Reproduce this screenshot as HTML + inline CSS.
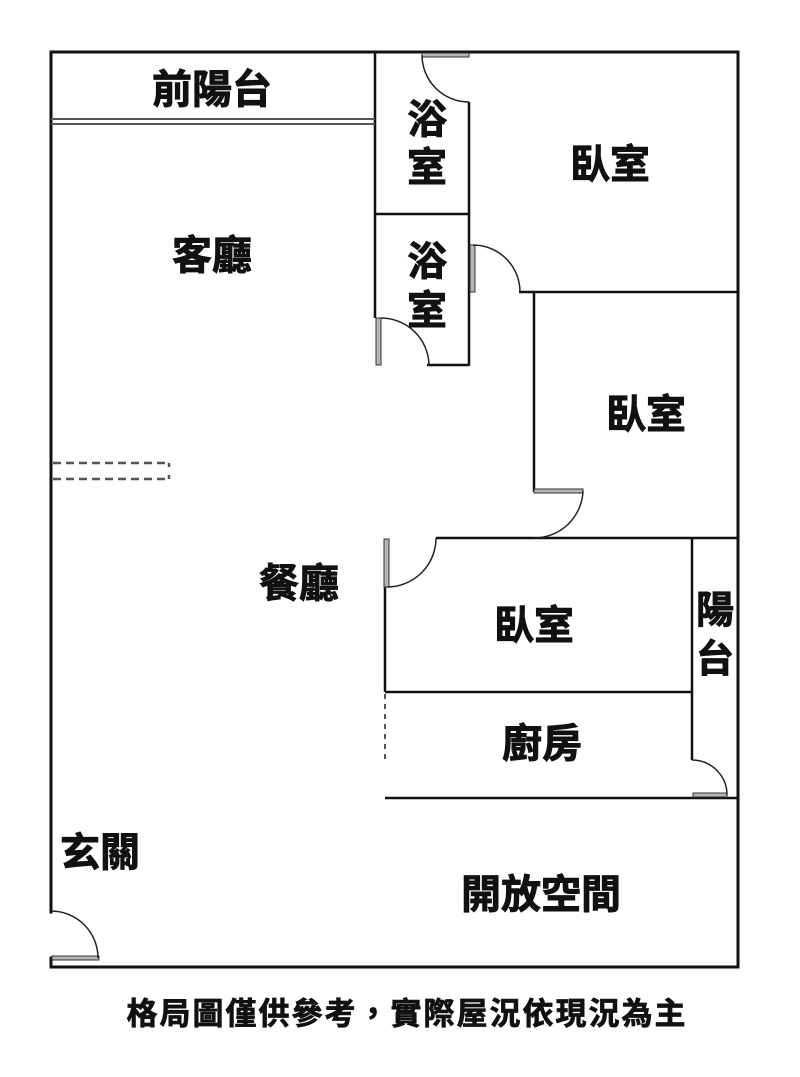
<!DOCTYPE html>
<html><head><meta charset="utf-8"><style>
html,body{margin:0;padding:0;background:#fff;}
svg{display:block;}
text{font-family:"Liberation Sans","Noto Sans CJK TC","Noto Sans CJK SC",sans-serif;font-weight:bold;fill:#111;stroke:#111;stroke-width:0.9;}
</style></head><body>
<svg width="800" height="1077" viewBox="0 0 800 1077" xmlns="http://www.w3.org/2000/svg">
<rect x="0" y="0" width="800" height="1077" fill="#fff"/>
<g stroke="#111" stroke-width="3" fill="none" stroke-linecap="square">
  <line x1="51" y1="52" x2="738" y2="52"/>
  <line x1="738" y1="52" x2="738" y2="967"/>
  <line x1="51" y1="967" x2="738" y2="967"/>
  <line x1="51" y1="52" x2="51" y2="912"/>
  <line x1="51" y1="958" x2="51" y2="967"/>
</g>
<g stroke="#111" stroke-width="2.5" fill="none">
  <line x1="375" y1="52" x2="375" y2="318"/>
  <line x1="375" y1="214" x2="469" y2="214"/>
  <line x1="469" y1="102" x2="469" y2="366"/>
  <line x1="427" y1="365" x2="469" y2="365"/>
  <line x1="519" y1="292" x2="738" y2="292"/>
  <line x1="534" y1="292" x2="534" y2="492"/>
  <line x1="436" y1="538" x2="738" y2="538"/>
  <line x1="385" y1="587" x2="385" y2="692"/>
  <line x1="385" y1="692" x2="692" y2="692"/>
  <line x1="692" y1="538" x2="692" y2="760"/>
  <line x1="385" y1="798" x2="738" y2="798"/>
</g>
<g stroke="#555" stroke-width="2" fill="none">
  <line x1="51" y1="119" x2="375" y2="119"/>
  <line x1="51" y1="124" x2="375" y2="124"/>
</g>
<g stroke="#555" stroke-width="2.5" fill="none" stroke-dasharray="8,5">
  <line x1="53" y1="463" x2="168" y2="463"/>
  <line x1="53" y1="479" x2="168" y2="479"/>
</g>
<g stroke="#555" stroke-width="2.5" fill="none">
  <line x1="169" y1="463" x2="169" y2="467"/>
  <line x1="169" y1="475" x2="169" y2="479"/>
</g>
<line x1="385" y1="694" x2="385" y2="762" stroke="#555" stroke-width="2" stroke-dasharray="5,5"/>
<g fill="#b5b5b5" stroke="#333" stroke-width="1">
  <rect x="422" y="53" width="47" height="4"/>
  <rect x="376" y="318" width="5" height="47"/>
  <rect x="470" y="245" width="5" height="47"/>
  <rect x="534" y="489" width="49" height="4"/>
  <rect x="384" y="539" width="5" height="48"/>
  <rect x="693" y="793" width="34" height="4"/>
  <rect x="52" y="956" width="47" height="4"/>
</g>
<g stroke="#222" stroke-width="1.5" fill="none">
  <path d="M422,55 A47,47 0 0 0 469,102"/>
  <path d="M381,318 A48,48 0 0 1 429,365"/>
  <path d="M473,245 A47,47 0 0 1 520,292"/>
  <path d="M583,491 A49,49 0 0 1 534,538"/>
  <path d="M436,538 A49,49 0 0 1 387,587"/>
  <path d="M692,760 A35,35 0 0 1 727,795"/>
  <path d="M51,911 A47,47 0 0 1 98,958"/>
</g>
<g font-size="40" text-anchor="middle" dominant-baseline="central">
  <text x="212" y="90">前陽台</text>
  <text x="212" y="256">客廳</text>
  <text x="427" y="120">浴</text>
  <text x="427" y="168">室</text>
  <text x="427" y="262">浴</text>
  <text x="427" y="311">室</text>
  <text x="610" y="165">臥室</text>
  <text x="646" y="415">臥室</text>
  <text x="534" y="626">臥室</text>
  <text x="715" y="611" font-size="38">陽</text>
  <text x="715" y="660" font-size="38">台</text>
  <text x="542" y="744">廚房</text>
  <text x="299" y="584">餐廳</text>
  <text x="100" y="853">玄關</text>
  <text x="541" y="895">開放空間</text>
</g>
<text x="407" y="1014" font-size="31" text-anchor="middle" dominant-baseline="central" letter-spacing="2" style="stroke-width:0.7">格局圖僅供參考，實際屋況依現況為主</text>
</svg>
</body></html>
